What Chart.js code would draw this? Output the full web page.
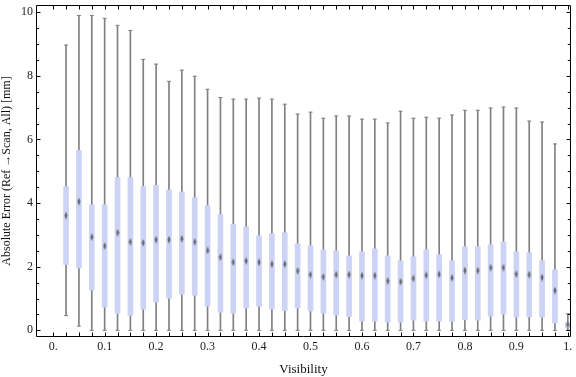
<!DOCTYPE html>
<html>
<head>
<meta charset="utf-8">
<script src="https://cdn.jsdelivr.net/npm/chart.js@4/dist/chart.umd.min.js"></script>
<style>
html,body{margin:0;padding:0;background:#fff;}
canvas{display:block;}
</style>
</head>
<body>
<canvas id="c" width="576" height="377"></canvas>
<script>
// ---- data ----
const visibility = [0.025,0.05,0.075,0.1,0.125,0.15,0.175,0.2,0.225,0.25,
  0.275,0.3,0.325,0.35,0.375,0.4,0.425,0.45,0.475,0.5,
  0.525,0.55,0.575,0.6,0.625,0.65,0.675,0.7,0.725,0.75,
  0.775,0.8,0.825,0.85,0.875,0.9,0.925,0.95,0.975,1.0];
const whiskerHigh = [8.97,9.9,9.9,9.81,9.59,9.43,8.52,8.37,7.83,8.18,
  7.99,7.58,7.32,7.27,7.27,7.30,7.27,7.11,6.80,6.86,
  6.67,6.74,6.74,6.64,6.64,6.52,6.89,6.67,6.70,6.67,
  6.77,6.92,6.92,6.99,7.02,6.99,6.58,6.55,5.86,0.52];
const whiskerLow = [0.46,0.13,0,0,0,0,0,0,0,0,
  0,0,0,0,0,0,0,0,0,0,
  0,0,0,0,0,0,0,0,0,0,
  0,0,0,0,0,0,0,0,0,0];
const q3 = [4.52,5.65,3.95,3.95,4.80,4.80,4.52,4.55,4.41,4.35,
  4.17,3.92,3.64,3.33,3.25,2.97,3.04,3.07,2.72,2.66,
  2.53,2.50,2.34,2.47,2.56,2.34,2.19,2.31,2.53,2.38,
  2.19,2.63,2.63,2.69,2.78,2.47,2.44,2.19,1.90,0.24];
const q1 = [2.07,1.96,1.27,0.73,0.53,0.47,0.66,0.89,1.01,1.13,
  1.10,0.76,0.57,0.54,0.70,0.76,0.67,0.62,0.70,0.61,
  0.54,0.48,0.43,0.29,0.29,0.26,0.26,0.32,0.29,0.29,
  0.29,0.33,0.32,0.45,0.51,0.42,0.42,0.42,0.23,0.08];
const median = [3.61,4.05,2.93,2.65,3.07,2.78,2.75,2.85,2.85,2.88,
  2.78,2.51,2.30,2.14,2.18,2.14,2.08,2.08,1.87,1.75,
  1.68,1.75,1.75,1.72,1.72,1.55,1.53,1.63,1.73,1.76,
  1.65,1.88,1.88,1.97,1.97,1.77,1.75,1.66,1.25,0.18];
const xTickValues = [0,0.1,0.2,0.3,0.4,0.5,0.6,0.7,0.8,0.9,1.0];
const xMinorStep = 0.025;
const yTickValues = [0,2,4,6,8,10];
const yMinorStep = 0.5;

// ---- styles ----
const FONT = "'Liberation Serif','Times New Roman',serif";
const boxColor = '#ccd3f5';
const whiskerColor = '#808080';

// median marker (small vertical diamond)
const mk = document.createElement('canvas');
mk.width = 4; mk.height = 8;
(function(){
  const c = mk.getContext('2d');
  c.fillStyle = 'rgba(95,95,95,0.9)';
  c.beginPath(); c.moveTo(2,0); c.lineTo(3.6,4); c.lineTo(2,8); c.lineTo(0.4,4); c.closePath(); c.fill();
})();

const whiskerData = visibility.map((x,i)=>({x, y:[whiskerLow[i], whiskerHigh[i]]}));
const boxData = visibility.map((x,i)=>({x, y:[q1[i], q3[i]]}));
const capData = visibility.map((x,i)=>({x, y:whiskerHigh[i]})).concat(visibility.map((x,i)=>({x, y:whiskerLow[i]})));
const medData = visibility.map((x,i)=>({x, y:median[i]}));

const frameTicks = {
  id: 'frameTicks',
  afterDatasetsDraw(chart){
    const {ctx, chartArea:{left,right,top,bottom}, scales:{x,y}} = chart;
    ctx.save();
    ctx.strokeStyle = '#000';
    ctx.lineWidth = 1;
    ctx.beginPath();
    ctx.moveTo(left+0.5, top+0.5); ctx.lineTo(right-0.5, top+0.5);
    ctx.lineTo(right-0.5, bottom-0.5); ctx.lineTo(left+0.5, bottom-0.5); ctx.closePath();
    ctx.stroke();
    ctx.beginPath();
    const nx = Math.round(1/xMinorStep);
    for (let k=0;k<=nx;k++){
      const v = k*xMinorStep;
      const px = Math.round(x.getPixelForValue(v)) + 0.5;
      const len = 4;
      ctx.moveTo(px, bottom-0.5); ctx.lineTo(px, bottom-0.5-len);
      ctx.moveTo(px, top+0.5); ctx.lineTo(px, top+0.5+len);
    }
    const ny = Math.round(10/yMinorStep);
    for (let k=0;k<=ny;k++){
      const v = k*yMinorStep;
      const py = Math.round(y.getPixelForValue(v)) + 0.5;
      const len = yTickValues.includes(v) ? 4 : 2.7;
      ctx.moveTo(left+0.5, py); ctx.lineTo(left+0.5+len, py);
      ctx.moveTo(right-0.5, py); ctx.lineTo(right-0.5-len, py);
    }
    ctx.stroke();
    ctx.restore();
  }
};

new Chart(document.getElementById('c'), {
  type: 'bar',
  data: {
    datasets: [
      {type:'bar', data: whiskerData, backgroundColor: whiskerColor, borderWidth:0, barThickness:1, grouped:false, order:4, clip:0},
      {type:'bar', data: boxData, backgroundColor: boxColor, borderWidth:0, barThickness:5, grouped:false, order:3, clip:0},
      {type:'scatter', data: capData, pointStyle:'line', pointRadius:2, borderColor: whiskerColor, borderWidth:1, order:2, clip:0},
      {type:'scatter', data: medData, pointStyle: mk, pointRadius:3, order:1, clip:0}
    ]
  },
  options: {
    responsive:false,
    animation:false,
    events:[],
    layout:{padding:{top:4, right:1, left:0, bottom:0}},
    plugins:{legend:{display:false}, tooltip:{enabled:false}},
    scales:{
      x:{
        type:'linear', min:-0.0334, max:1.0062, offset:false,
        grid:{display:false, drawTicks:false, offset:false}, border:{display:false},
        afterBuildTicks: s => { s.ticks = xTickValues.map(v=>({value:v})); },
        afterFit: s => { s.height = 40; s.paddingLeft = 0; s.paddingRight = 0; },
        ticks:{padding:3, color:'#222', font:{family:FONT, size:12},
          callback: v => (v===0 ? '0.' : (v===1 ? '1.' : v.toFixed(1)))},
        title:{display:true, text:'Visibility', color:'#111', font:{family:FONT, size:13}, padding:{top:0,bottom:0}}
      },
      y:{
        type:'linear', min:-0.21, max:10.229,
        grid:{display:false, drawTicks:false}, border:{display:false},
        afterBuildTicks: s => { s.ticks = yTickValues.map(v=>({value:v})); },
        afterFit: s => { s.width = 36; s.paddingTop = 0; s.paddingBottom = 0; },
        ticks:{padding:3, color:'#222', font:{family:FONT, size:12}},
        title:{display:true, text:'Absolute Error (Ref \u2192Scan, All) [mm]', color:'#111', font:{family:FONT, size:12}, padding:{top:0,bottom:0}}
      }
    }
  },
  plugins:[frameTicks]
});
</script>
</body>
</html>
